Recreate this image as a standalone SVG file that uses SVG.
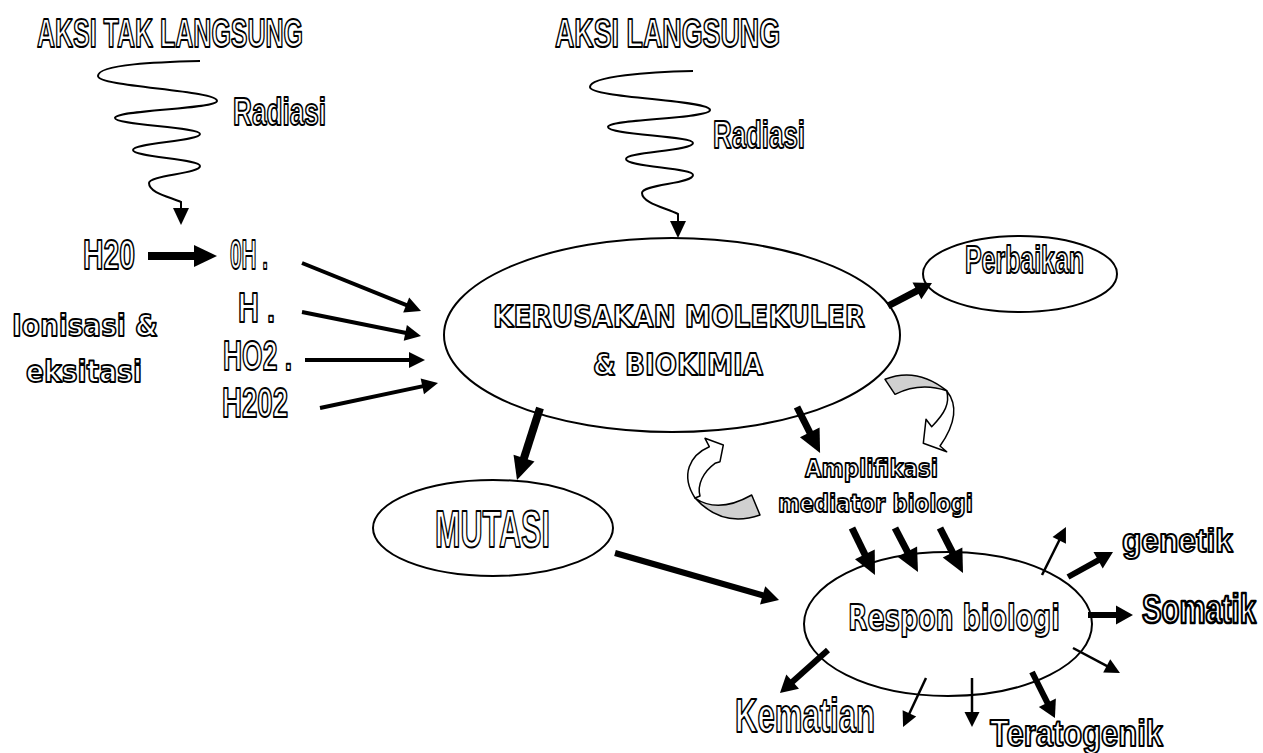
<svg xmlns="http://www.w3.org/2000/svg" width="1263" height="753" viewBox="0 0 1263 753">
<style>
.n{font-family:"Liberation Sans",Arial,sans-serif;font-weight:bold;fill:#fff;stroke:#000;stroke-width:2;stroke-linejoin:round}
.w{font-family:"DejaVu Sans","Liberation Sans",sans-serif;font-weight:bold;fill:#fff;stroke:#000;stroke-width:1.8;stroke-linejoin:round}
.el{fill:#fff;stroke:#000;stroke-width:2}
.wave{fill:none;stroke:#000;stroke-width:2}
.a{fill:none;stroke:#000}
.cg{fill:#d0d0d0;stroke:#000;stroke-width:1.5;stroke-linejoin:round}
.cw{fill:#fff;stroke:#000;stroke-width:1.5;stroke-linejoin:round}
</style>
<defs>
<marker id="hL" markerUnits="userSpaceOnUse" markerWidth="24" markerHeight="24" refX="0" refY="0" orient="auto" overflow="visible"><path d="M-1,-11 L22,0 L-1,11 Z" fill="#000"/></marker>
<marker id="hK" markerUnits="userSpaceOnUse" markerWidth="20" markerHeight="20" refX="0" refY="0" orient="auto" overflow="visible"><path d="M-1,-9.5 L16,0 L-1,9.5 Z" fill="#000"/></marker>
<marker id="hM" markerUnits="userSpaceOnUse" markerWidth="18" markerHeight="18" refX="0" refY="0" orient="auto" overflow="visible"><path d="M-1,-8 L15,0 L-1,8 Z" fill="#000"/></marker>
<marker id="hS" markerUnits="userSpaceOnUse" markerWidth="16" markerHeight="16" refX="0" refY="0" orient="auto" overflow="visible"><path d="M-1,-7.5 L14,0 L-1,7.5 Z" fill="#000"/></marker>
<marker id="hW" markerUnits="userSpaceOnUse" markerWidth="18" markerHeight="18" refX="0" refY="0" orient="auto" overflow="visible"><path d="M-1,-8 L16,0 L-1,8 Z" fill="#000"/></marker>
</defs>
<rect width="1263" height="753" fill="#fff"/>

<g id="title-tak-langsung"><text class="n" x="37" y="47" font-size="41" textLength="266" lengthAdjust="spacingAndGlyphs">AKSI TAK LANGSUNG</text></g>
<g id="title-langsung"><text class="n" x="555" y="47" font-size="41" textLength="225" lengthAdjust="spacingAndGlyphs">AKSI LANGSUNG</text></g>
<g id="radiasi-left"><text class="n" x="233" y="125" font-size="39" textLength="93" lengthAdjust="spacingAndGlyphs">Radiasi</text></g>
<g id="radiasi-right"><text class="n" x="713" y="148" font-size="39" textLength="92" lengthAdjust="spacingAndGlyphs">Radiasi</text></g>
<g id="h2o"><text class="n" x="83" y="269" font-size="42" textLength="52" lengthAdjust="spacingAndGlyphs">H20</text></g>
<g id="oh"><text class="n" x="230" y="269" font-size="42" textLength="38" lengthAdjust="spacingAndGlyphs">0H .</text></g>
<g id="h"><text class="n" x="238" y="322" font-size="42" textLength="37" lengthAdjust="spacingAndGlyphs">H .</text></g>
<g id="ho2"><text class="n" x="223" y="370" font-size="42" textLength="69" lengthAdjust="spacingAndGlyphs">HO2 .</text></g>
<g id="h2o2"><text class="n" x="222" y="417" font-size="42" textLength="66" lengthAdjust="spacingAndGlyphs">H202</text></g>
<g id="ionisasi">
<text class="w" x="12" y="336" font-size="31" textLength="146" lengthAdjust="spacingAndGlyphs">Ionisasi &amp;</text>
<text class="w" x="26" y="382" font-size="31" textLength="116" lengthAdjust="spacingAndGlyphs">eksitasi</text>
</g>

<g id="kerusakan">
<ellipse class="el" cx="672" cy="335" rx="228" ry="97"/>
<text class="w" x="493" y="327" font-size="31" textLength="372" lengthAdjust="spacingAndGlyphs">KERUSAKAN MOLEKULER</text>
<text class="w" x="593" y="375" font-size="31" textLength="170" lengthAdjust="spacingAndGlyphs">&amp; BIOKIMIA</text>
</g>
<g id="perbaikan">
<ellipse class="el" cx="1020" cy="274" rx="97" ry="38"/>
<text class="n" x="965" y="273" font-size="39" textLength="119" lengthAdjust="spacingAndGlyphs">Perbaikan</text>
</g>
<g id="mutasi">
<ellipse class="el" cx="493" cy="528" rx="120" ry="48"/>
<text class="n" x="435" y="547" font-size="52" textLength="115" lengthAdjust="spacingAndGlyphs">MUTASI</text>
</g>
<g id="amplifikasi">
<text class="w" x="805" y="477" font-size="25" textLength="133" lengthAdjust="spacingAndGlyphs">Amplifikasi</text>
<text class="w" x="778" y="512" font-size="25" textLength="195" lengthAdjust="spacingAndGlyphs">mediator biologi</text>
</g>
<g id="respon">
<ellipse class="el" cx="948" cy="624" rx="144" ry="72"/>
<text class="w" x="848" y="630" font-size="36" textLength="212" lengthAdjust="spacingAndGlyphs">Respon biologi</text>
</g>
<g id="genetik"><text class="n" x="1122" y="552" font-size="34" textLength="111" lengthAdjust="spacingAndGlyphs">genetik</text></g>
<g id="somatik"><text class="n" transform="translate(1142,623) scale(1,1.37)" x="0" y="0" font-size="30" stroke-width="1.6" textLength="114" lengthAdjust="spacingAndGlyphs">Somatik</text></g>
<g id="kematian"><text class="n" x="735" y="732" font-size="49" textLength="140" lengthAdjust="spacingAndGlyphs">Kematian</text></g>
<g id="teratogenik"><text class="n" x="990" y="746" font-size="36" textLength="173" lengthAdjust="spacingAndGlyphs">Teratogenik</text></g>

<g id="connectors">
<path class="wave" marker-end="url(#hW)" d="M200,61 C160,62 98,64 98,76 C98,87 217,90 217,101 C217,109 115,110 115,118 C115,125 200,127 200,134 C200,141 133,143 133,150 C133,157 200,159 200,166 C200,174 149,175 149,183 C149,193 170,197 181,202 L181,209"/>
<path class="wave" marker-end="url(#hW)" d="M693,71 C650,72 590,76 590,87 C590,98 710,100 710,110 C710,119 608,119 608,127 C608,135 693,136 693,143 C693,151 626,152 626,159 C626,167 693,168 693,175 C693,184 642,184 642,193 C642,203 666,208 678,214 L678,222"/>
<line class="a" stroke-width="8" x1="148" y1="256" x2="195" y2="256" marker-end="url(#hL)"/>
<line class="a" stroke-width="4" x1="302" y1="263" x2="407.1" y2="305.4" marker-end="url(#hM)"/>
<line class="a" stroke-width="4" x1="302" y1="312" x2="406.3" y2="333" marker-end="url(#hM)"/>
<line class="a" stroke-width="4" x1="305" y1="360" x2="410" y2="360" marker-end="url(#hM)"/>
<line class="a" stroke-width="4" x1="320" y1="408" x2="423.3" y2="386.1" marker-end="url(#hM)"/>
<line class="a" stroke-width="7" x1="888" y1="306" x2="917.8" y2="290.4" marker-end="url(#hK)"/>
<line class="a" stroke-width="7" x1="797" y1="407" x2="810.2" y2="433.3" marker-end="url(#hL)"/>
<line class="a" stroke-width="8" x1="540" y1="408" x2="523.7" y2="459" marker-end="url(#hL)"/>
<line class="a" stroke-width="6" x1="615" y1="553" x2="763.6" y2="595.6" marker-end="url(#hK)"/>
<line class="a" stroke-width="7" x1="852" y1="528" x2="865.3" y2="555.2" marker-end="url(#hL)"/>
<line class="a" stroke-width="7" x1="895" y1="528" x2="907.8" y2="552.5" marker-end="url(#hL)"/>
<line class="a" stroke-width="7" x1="940" y1="528" x2="953" y2="553.4" marker-end="url(#hL)"/>
<line class="a" stroke-width="2.5" x1="1042" y1="575" x2="1059.7" y2="539.5" marker-end="url(#hS)"/>
<line class="a" stroke-width="6" x1="1068" y1="577" x2="1099" y2="559.8" marker-end="url(#hK)"/>
<line class="a" stroke-width="6" x1="1088" y1="615" x2="1117" y2="615" marker-end="url(#hK)"/>
<line class="a" stroke-width="2.5" x1="1073" y1="648" x2="1107.6" y2="666.4" marker-end="url(#hS)"/>
<line class="a" stroke-width="6" x1="1032" y1="672" x2="1047.8" y2="703.7" marker-end="url(#hK)"/>
<line class="a" stroke-width="2.5" x1="972" y1="678" x2="972" y2="713" marker-end="url(#hS)"/>
<line class="a" stroke-width="2.5" x1="926" y1="678" x2="909" y2="714.3" marker-end="url(#hS)"/>
<line class="a" stroke-width="6" x1="828" y1="650" x2="791.9" y2="682.3" marker-end="url(#hK)"/>
<path class="cg" d="M885,379.3 Q916.7,366.7 946.7,390.7 Q920,381.7 895,394.3 Z"/>
<path class="cw" d="M946.7,390.7 C956.7,403.3 958.3,420 940,446 L946.7,451.7 L923.3,443.3 L926,419.3 L931.7,426.7 C945,413.3 950,403.3 946.7,390.7 Z"/>
<path class="cg" d="M751.7,495 L760,515 Q722,528 695,498 Q718,514 751.7,495 Z"/>
<path class="cw" d="M695,498 C680,475 690,455 709.3,446.7 L705,438.3 L723.3,445 L720,461.7 L715,463.3 C703,472 697,485 700,496 Z"/>
</g>
</svg>
